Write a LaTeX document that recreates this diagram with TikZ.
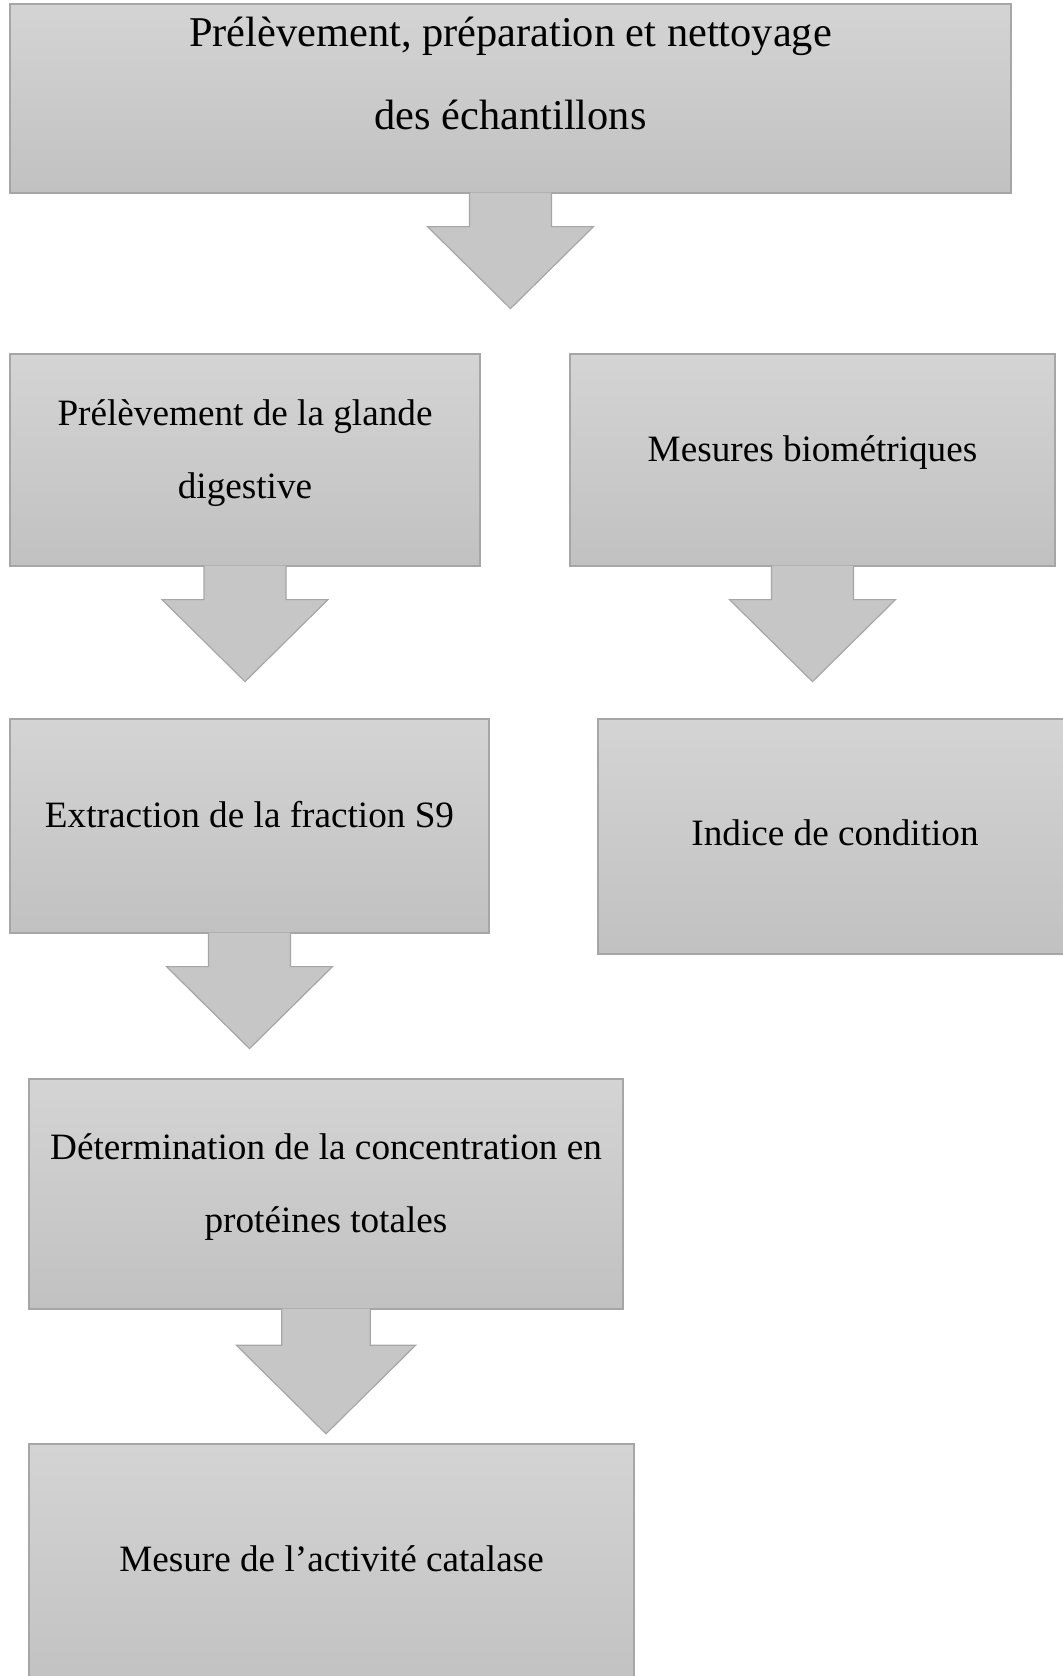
\documentclass[tikz,border=0pt]{standalone}
\usepackage{fontspec}
\setmainfont{Liberation Serif}
\pgfdeclarelayer{edgelayer}
\pgfdeclarelayer{nodelayer}
\pgfsetlayers{nodelayer,edgelayer,main}
\definecolor{boxtop}{HTML}{D4D4D4}
\definecolor{boxbottom}{HTML}{C1C1C1}
\definecolor{arrowgray}{HTML}{C6C6C6}
\definecolor{rimgray}{HTML}{A6A6A6}
\tikzstyle{stage}=[rectangle,draw=rimgray,line width=0.6pt,top color=boxtop,bottom color=boxbottom,align=center,inner sep=0pt,font=\fontsize{18.6pt}{36.5pt}\selectfont]
\tikzstyle{bigstage}=[stage,font=\fontsize{21.2pt}{41.5pt}\selectfont]
\tikzstyle{flow}=[draw=rimgray,line width=0.6pt,fill=arrowgray]
\newcommand{\vstrut}{\rule[-0.75em]{0pt}{1.6em}}
\newcommand{\flowarrow}[2]{\draw [style=flow, shift={(#1.south)}, scale=#2] (-41,-1) -- (-41,33) -- (-83,33) -- (0,115) -- (83,33) -- (41,33) -- (41,-1);}

\begin{document}
\begin{tikzpicture}[x=0.5pt,y=-0.5pt]
	\useasboundingbox (0,0) rectangle (1062,1676);
	\begin{pgfonlayer}{nodelayer}
		\node [style=bigstage, minimum width=500.5pt, minimum height=94.5pt] (0) at (510.5, 98.5) {\vstrut Prélèvement, préparation et nettoyage\\\rule[-1.33em]{0pt}{1.33em}des échantillons};
		\node [style=stage, minimum width=235pt, minimum height=106pt] (1) at (245, 460) {\vstrut Prélèvement de la glande\\\vstrut digestive};
		\node [style=stage, minimum width=242.5pt, minimum height=106pt] (2) at (812.5, 460) {\vstrut Mesures biométriques};
		\node [style=stage, minimum width=239.5pt, minimum height=107pt] (3) at (249.5, 826) {\vstrut Extraction de la fraction S9};
		\node [style=stage, minimum width=237pt, minimum height=117.5pt] (4) at (835, 836.5) {\rule[-0.55em]{0pt}{1.6em}Indice de condition};
		\node [style=stage, minimum width=297pt, minimum height=115pt] (5) at (326, 1194) {\vstrut Détermination de la concentration en\\\vstrut protéines totales};
		\node [style=stage, minimum width=302.5pt, minimum height=126pt] (6) at (331.5, 1570) {\vstrut Mesure de l’activité catalase};
	\end{pgfonlayer}
	\begin{pgfonlayer}{edgelayer}
		\flowarrow{0}{1}
		\flowarrow{1}{1}
		\flowarrow{2}{1}
		\flowarrow{3}{1}
		\flowarrow{5}{1.08}
	\end{pgfonlayer}
\end{tikzpicture}
\end{document}
